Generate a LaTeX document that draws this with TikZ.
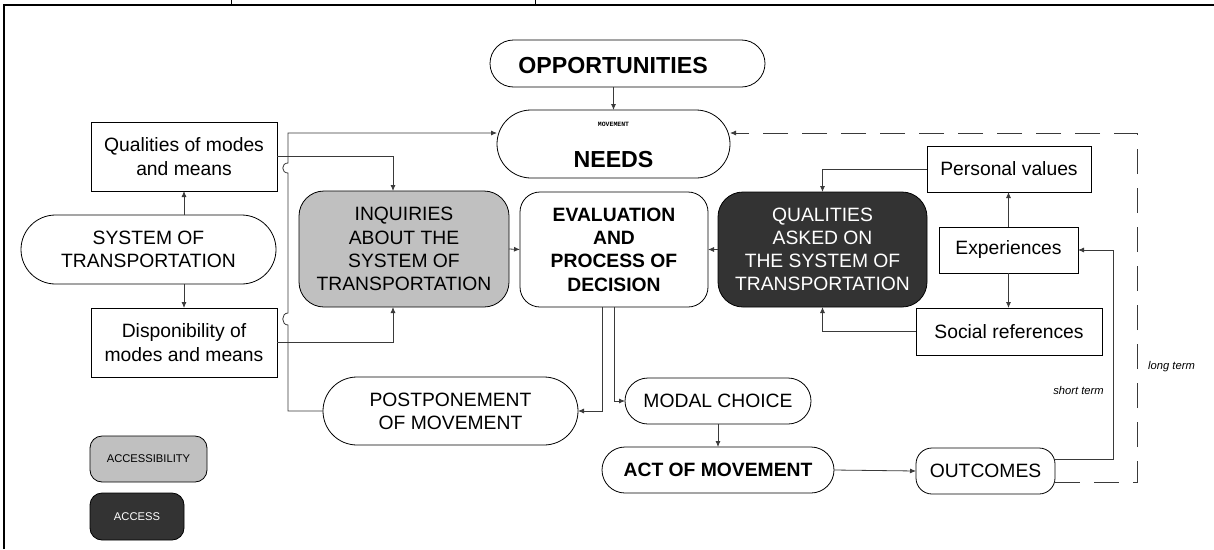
\documentclass[tikz,border=0pt]{standalone}
\usepackage{fontspec}
\setmainfont{Liberation Sans}
\newfontfamily\monof{Liberation Mono}
\usetikzlibrary{shapes.misc,arrows.meta}
\definecolor{lgray}{HTML}{C0C0C0}
\definecolor{dgray}{HTML}{333333}
\definecolor{lcol}{HTML}{3A3A3A}
\newcommand\txtreg{\fontsize{19.3}{23.2}\selectfont}
\newcommand\txtbold{\fontsize{19.3}{23.4}\selectfont\bfseries}
\newcommand\txtlarge{\fontsize{23.2}{26}\selectfont\bfseries}
\newcommand\txtsmall{\fontsize{11.2}{13}\selectfont}
\newcommand\txtmono{\fontsize{6.5}{7}\selectfont\monof\bfseries}
\begin{document}
\begin{tikzpicture}[x=1pt,y=-1pt,
  base/.style={draw=black,line width=0.8pt,inner sep=0pt,outer sep=0pt,align=center},
  sqbox/.style={base,rectangle},
  stad/.style={base,rounded rectangle},
  rbox/.style={base,rectangle,rounded corners=#1},
  rbox/.default=20pt,
  conn/.style={draw=lcol,line width=0.8pt},
  arr/.style={conn,-{Latex[length=6pt,width=5pt]}},
  dconn/.style={arr,dash pattern=on 25pt off 14pt},
  txt/.style={inner sep=0pt,outer sep=0pt,align=center}
]
\useasboundingbox (0,0) rectangle (1214,549);
% frame
\draw[line width=2pt] (4,549) -- (4,4.5) -- (1214,4.5);
\draw[line width=1pt] (231,0) -- (231,4);
\draw[line width=1pt] (535,0) -- (535,4);

% top
\node[stad,minimum width=275pt,minimum height=47pt] (opp) at (627.5,63.5) {};
\node[txt,font=\txtlarge] (opptxt) at (613,65.5) {OPPORTUNITIES};
\node[stad,minimum width=233pt,minimum height=68pt] (needs) at (613.5,144) {};
\node[txt,font=\txtmono] (needsmv) at (613.5,124) {MOVEMENT};
\node[txt,font=\txtlarge] (needstxt) at (613.5,160) {NEEDS};

% left
\node[sqbox,minimum width=186pt,minimum height=69pt,font=\txtreg] (qual) at (184,156.5) {Qualities of modes\\and means};
\node[stad,minimum width=255pt,minimum height=69pt,font=\txtreg] (sys) at (148.5,249.5) {SYSTEM OF\\TRANSPORTATION};
\node[sqbox,minimum width=186pt,minimum height=69pt,font=\txtreg] (disp) at (184,342.5) {Disponibility of\\modes and means};

% center row
\node[rbox=25pt,fill=lgray,minimum width=210pt,minimum height=116pt,font=\txtreg] (inq) at (404,249) {INQUIRIES\\ABOUT THE\\SYSTEM OF\\TRANSPORTATION};
\node[rbox=20pt,minimum width=188pt,minimum height=115pt,font=\txtbold] (eval) at (614,249.5) {EVALUATION\\AND\\PROCESS OF\\DECISION};
\node[rbox=25pt,fill=dgray,text=white,minimum width=209pt,minimum height=115pt,font=\txtreg] (qask) at (822.5,249.5) {QUALITIES\\ASKED ON\\THE SYSTEM OF\\TRANSPORTATION};

% right
\node[sqbox,minimum width=164pt,minimum height=46pt,font=\txtreg] (pv) at (1009,169) {Personal values};
\node[sqbox,minimum width=139pt,minimum height=46pt,font=\txtreg] (exp) at (1008.5,250) {Experiences};
\node[sqbox,minimum width=186pt,minimum height=47pt,font=\txtreg] (soc) at (1009,331.5) {Social references};

% lower
\node[stad,minimum width=255pt,minimum height=68pt,font=\txtreg] (post) at (450.5,411) {POSTPONEMENT\\OF MOVEMENT};
\node[stad,minimum width=186pt,minimum height=46pt,font=\txtreg] (modal) at (718,401) {MODAL CHOICE};
\node[stad,minimum width=232pt,minimum height=46pt,font=\txtbold] (act) at (718,470) {ACT OF MOVEMENT};
\node[rbox=16pt,minimum width=139pt,minimum height=46pt,font=\txtreg] (out) at (985.5,471) {OUTCOMES};

% legend
\node[rbox=12pt,fill=lgray,minimum width=117pt,minimum height=46pt,font=\txtsmall] (leg1) at (148.5,459) {ACCESSIBILITY};
\node[rbox=12pt,fill=dgray,text=white,minimum width=94pt,minimum height=47pt,font=\txtsmall] (leg2) at (137,516.5) {ACCESS};

% labels
\node[txt,font=\txtsmall\itshape] (stlab) at (1078.5,390) {short term};
\node[txt,font=\txtsmall\itshape] (ltlab) at (1171.5,367) {long term};

% connectors
\draw[arr] (opp.south -| needs.north) -- (needs.north);
\draw[arr] (sys.north -| qual.south) -- (qual.south);
\draw[arr] (sys.south -| disp.north) -- (disp.north);
\draw[arr] (qual.east) -| ([xshift=-11pt]inq.north);
\draw[arr] (disp.east) -| ([xshift=-11pt]inq.south);
\draw[arr] (inq.east) -- (eval.west);
\draw[arr] (qask.west) -- (eval.east);
\draw[arr] (pv.west) -| (qask.north);
\draw[arr] (soc.west) -| (qask.south);
\draw[arr] (exp.north) -- (exp.north |- pv.south);
\draw[arr] (exp.south) -- (exp.south |- soc.north);
\draw[arr] ([xshift=-12pt]eval.south) |- (post.east);
\draw[arr] (eval.south) |- (modal.west);
\draw[arr] (modal.south) -- (act.north);
\draw[arr] (act.east) -- (out.west);

% loop from postponement back to needs, with hops
\coordinate (lp1) at (288,411);
\coordinate (lp2) at (288,133);
\draw[arr] (post.west) -- (lp1) -- (288,325)
  .. controls (281,325) and (281,313) .. (288,313)
  -- (288,173)
  .. controls (281,173) and (281,163) .. (288,163)
  -- (lp2) -- ([yshift=11pt]needs.west);

% short term feedback
\coordinate (stc) at (1113,0);
\draw[arr] ([yshift=12pt]out.east) -| (stc |- exp.east) -- (exp.east);

% long term feedback (dashed)
\coordinate (ltc) at (1137,133);
\draw[dconn] ([yshift=-11pt]out.east) -| (ltc) -- ([yshift=11pt]needs.east);
\end{tikzpicture}
\end{document}
